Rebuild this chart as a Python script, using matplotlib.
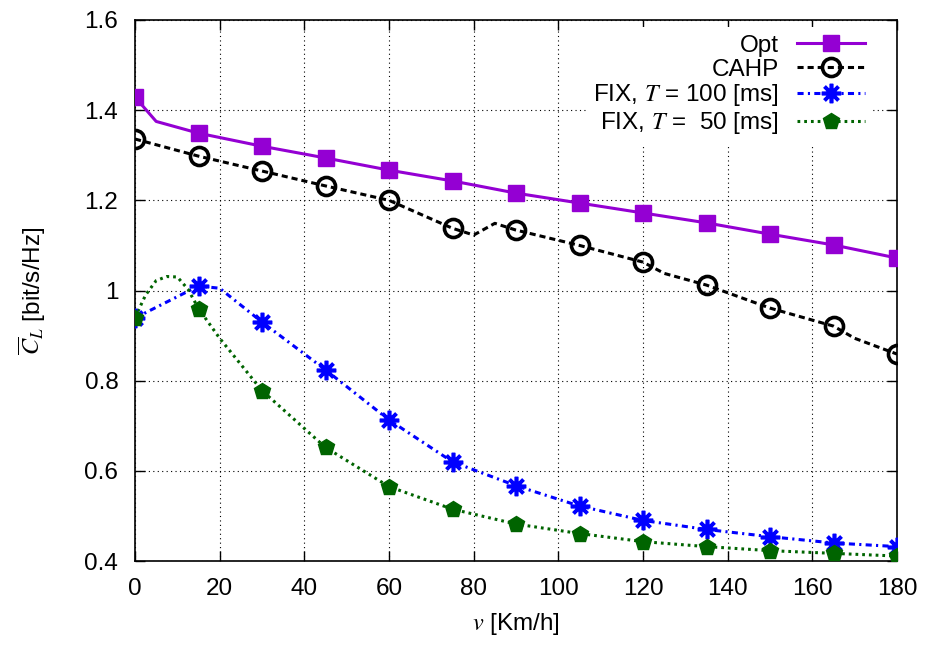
import numpy as np
import matplotlib.pyplot as plt

plt.rcParams['font.family'] = ['Liberation Sans', 'DejaVu Sans']
plt.rcParams['mathtext.fontset'] = 'stix'

# Marker positions (every 15 Km/h)
v_marks = [0, 15, 30, 45, 60, 75, 90, 105, 120, 135, 150, 165, 180]
opt_marks = [1.429, 1.349, 1.320, 1.294, 1.267, 1.243, 1.216, 1.194, 1.172, 1.150, 1.125, 1.101, 1.072]
cahp_marks = [1.336, 1.298, 1.265, 1.232, 1.200, 1.138, 1.134, 1.100, 1.063, 1.012, 0.961, 0.921, 0.859]
fix100_marks = [0.939, 1.010, 0.930, 0.824, 0.713, 0.620, 0.567, 0.522, 0.490, 0.470, 0.454, 0.440, 0.432]
fix50_marks = [0.940, 0.960, 0.778, 0.652, 0.565, 0.515, 0.482, 0.461, 0.443, 0.432, 0.423, 0.417, 0.411]

# Curves are sampled more finely than the markers
opt_v = [0, 5, 15, 30, 45, 60, 75, 90, 105, 120, 135, 150, 165, 180]
opt_c = [1.429, 1.375, 1.349, 1.320, 1.294, 1.267, 1.243, 1.216, 1.194, 1.172, 1.150, 1.125, 1.101, 1.072]

cahp_v = [0, 15, 30, 45, 60, 75, 80, 85, 90, 105, 120, 125, 135, 150, 165, 170, 180]
cahp_c = [1.336, 1.298, 1.265, 1.232, 1.200, 1.138, 1.123, 1.149, 1.134, 1.100, 1.063, 1.038,
          1.012, 0.961, 0.921, 0.894, 0.859]

fix100_v = [0, 15, 20, 30, 45, 60, 75, 90, 105, 120, 135, 150, 165, 180]
fix100_c = [0.939, 1.010, 1.005, 0.930, 0.824, 0.713, 0.620, 0.567, 0.522, 0.490, 0.470, 0.454, 0.440, 0.432]

fix50_v = [0, 2.5, 5, 7.5, 10, 12.5, 15, 20, 30, 45, 60, 75, 90, 105, 120, 135, 150, 165, 180]
fix50_c = [0.940, 0.990, 1.022, 1.031, 1.030, 1.003, 0.960, 0.894, 0.778, 0.652, 0.565, 0.515, 0.482,
           0.461, 0.443, 0.432, 0.423, 0.417, 0.411]

series = [
    ("Opt", opt_v, opt_c, opt_marks,
     dict(color="#9400D3", ls="-", marker="s", ms=12, mfc="#9400D3", mec="#9400D3")),
    ("CAHP", cahp_v, cahp_c, cahp_marks,
     dict(color="black", dashes=(2, 1.3), marker="o", ms=13, mfc="none", mec="black", mew=2.6)),
    (r"FIX, $T$ = 100 [ms]", fix100_v, fix100_c, fix100_marks,
     dict(color="#0000FF", dashes=(2, 1.4, 0.7, 1.4), marker=(8, 2, 0), ms=14, mec="#0000FF", mew=2.6)),
    (r"FIX, $T$ =  50 [ms]", fix50_v, fix50_c, fix50_marks,
     dict(color="#006400", dashes=(0.9, 1.3), marker="p", ms=12, mfc="#006400", mec="#006400")),
]

FS = 17.5

fig = plt.figure(figsize=(9.26, 6.45), dpi=100)
ax = fig.add_axes([0.1458, 0.1302, 0.8229, 0.8388])

for label, xv, yv, marks, st in series:
    st = dict(st)
    marker = st.pop("marker")
    ms = st.pop("ms")
    mfc = st.pop("mfc", st["color"])
    mec = st.pop("mec")
    mew = st.pop("mew", 1.0)
    ax.plot(xv, yv, lw=2.2, zorder=3, **st)
    ax.plot(v_marks, marks, ls="none", marker=marker, ms=ms, mfc=mfc, mec=mec, mew=mew, zorder=4)
    # legend proxy combines line and marker
    ax.plot([], [], lw=2.2, marker=marker, ms=ms, mfc=mfc, mec=mec, mew=mew, label=label, **st)

ax.set_xlim(0, 180)
ax.set_ylim(0.4, 1.6)
ax.set_xticks(np.arange(0, 181, 20))
ax.set_yticks(np.arange(0.4, 1.61, 0.2))
ax.yaxis.set_major_formatter(plt.FuncFormatter(lambda y, p: f"{y:g}"))
ax.tick_params(direction="in", length=7, width=1, labelsize=FS, top=True, right=True)
ax.tick_params(axis="y", pad=12)
ax.tick_params(axis="x", pad=12)
ax.grid(True, color="black", lw=0.8, ls=(0, (1, 3)))
for s in ax.spines.values():
    s.set_linewidth(1.2)

ax.set_xlabel(r"$v$ [Km/h]", fontsize=FS, labelpad=8)
ax.set_ylabel(r"$\overline{C}_L$ [bit/s/Hz]", fontsize=FS, labelpad=26)

leg = ax.legend(loc="upper right", bbox_to_anchor=(0.977, 1.0), markerfirst=False, fontsize=FS,
                handlelength=2.8, handletextpad=0.75, labelspacing=0.08, borderpad=0.3,
                borderaxespad=0.3, fancybox=False, framealpha=1, edgecolor="none", facecolor="white")
leg.set_zorder(5)

fig.savefig("out.png", dpi=100)
